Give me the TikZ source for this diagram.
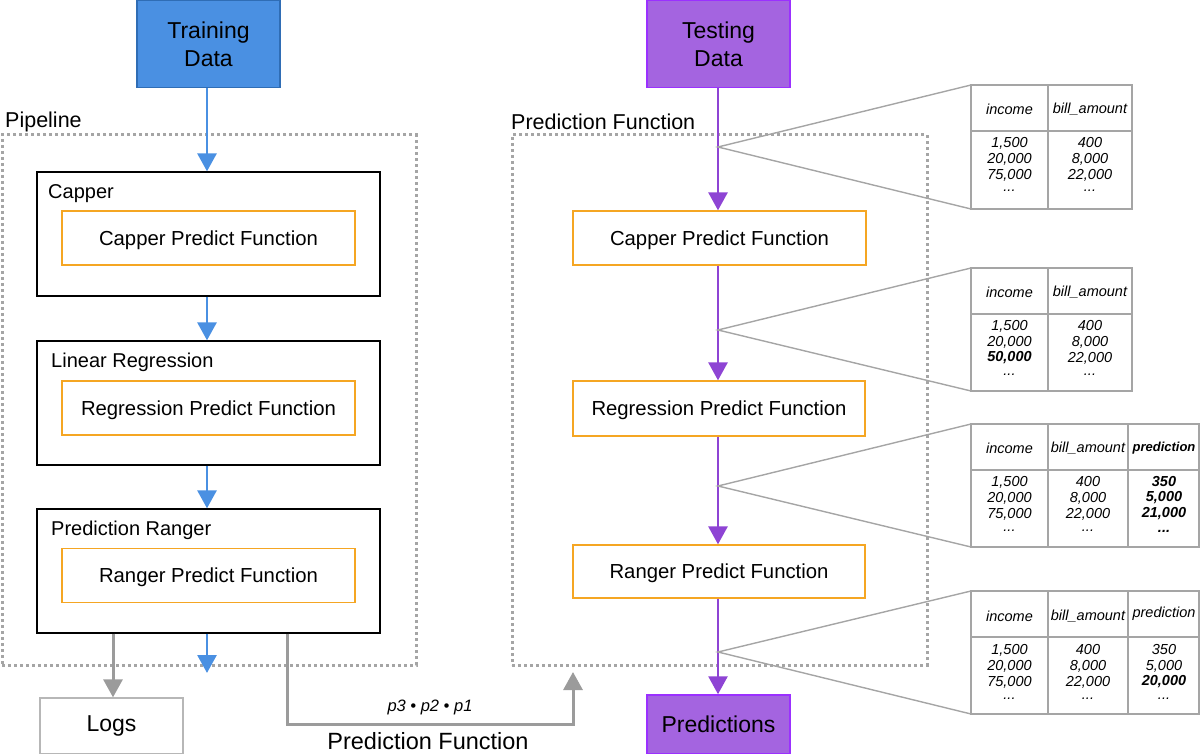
\documentclass[tikz,border=0pt]{standalone}
\usepackage{fontspec}
\setmainfont{Liberation Sans}
\usetikzlibrary{arrows.meta}
\definecolor{tblue}{HTML}{4A90E2}
\definecolor{tbluedk}{HTML}{2F6DB5}
\definecolor{tpurp}{HTML}{A464E0}
\definecolor{tpurpdk}{HTML}{9B30FF}
\definecolor{tparrow}{HTML}{8E44D4}
\definecolor{torange}{HTML}{F5A623}
\definecolor{tgrey}{HTML}{9B9B9B}
\definecolor{tdash}{HTML}{A5A5A5}
\tikzset{
  fs/.style={font=\fontsize{#1}{#1}\selectfont},
  databox/.style={minimum width=143pt,minimum height=87pt,inner sep=0pt,line width=1.5pt,align=center,font=\fontsize{23}{28}\selectfont},
  stagebox/.style={draw=black,line width=1.3pt,minimum width=343pt,minimum height=124pt,inner sep=0pt},
  fnbox/.style={draw=torange,line width=1.3pt,minimum width=293pt,minimum height=54pt,inner sep=0pt,fs=20.3,text depth=0pt,text height=14.5pt},
  dashbox/.style={draw=tdash,line width=3pt,dash pattern=on 3pt off 3pt,minimum width=414pt,minimum height=530pt,inner sep=0pt},
  lbl/.style={anchor=west,inner sep=0pt,fs=20,yshift=-2pt},
  tip/.style={-{Triangle[width=19pt,length=18pt]}},
  blueflow/.style={draw=tblue,line width=2.8pt,tip},
  purpflow/.style={draw=tparrow,line width=2.8pt,tip},
  greyflow/.style={draw=tgrey,line width=3pt,tip},
  zoomline/.style={draw=tdash,line width=1.4pt},
  tline/.style={draw=tdash,line width=1.6pt},
  cell/.style={inner sep=0pt,yshift=-1pt,font=\fontsize{14.5}{16}\selectfont\itshape},
  bcell/.style={inner sep=0pt,yshift=-1pt,font=\fontsize{14.5}{16}\selectfont\bfseries\itshape},
}
\begin{document}
\begin{tikzpicture}[x=1pt,y=-1pt]
\useasboundingbox (0,0) rectangle (1200,754);
% ---------- left: pipeline ----------
\node[dashbox] (pipe) at (209,400) {};
\node[lbl,fs=21.5] (pipelbl) at (5,120) {Pipeline};
\node[databox,fill=tblue,draw=tbluedk] (train) at (208.5,44) {Training\\Data};
\node[stagebox] (capper) at (208.5,234) {};
\node[lbl] (capperlbl) at (48,192) {Capper};
\node[fnbox] (capperfn) at (208.5,238) {Capper Predict Function};
\node[stagebox] (linreg) at (208.5,403) {};
\node[lbl] (linreglbl) at (51,360) {Linear Regression};
\node[fnbox] (linregfn) at (208.5,408) {Regression Predict Function};
\node[stagebox] (ranger) at (208.5,571) {};
\node[lbl] (rangerlbl) at (51,528) {Prediction Ranger};
\node[fnbox] (rangerfn) at (208.5,575.5) {Ranger Predict Function};
\node[draw=tdash!80,line width=1.3pt,minimum width=143pt,minimum height=56pt,inner sep=0pt,fs=23] (logs) at (111.5,726) {Logs};
\coordinate (pipeout) at (207,673);
\coordinate (pfin) at (573,672);

\draw[blueflow] (train.south -| 207,0) -- (capper.north -| 207,0);
\draw[blueflow] (capper.south -| 207,0) -- (linreg.north -| 207,0);
\draw[blueflow] (linreg.south -| 207,0) -- (ranger.north -| 207,0);
\draw[blueflow] (ranger.south -| 207,0) -- (pipeout);
\draw[greyflow] (ranger.south -| 113,0) -- (logs.north -| 113,0);
\draw[greyflow] (ranger.south -| 287,0) |- (430,724) -| (pfin);
\node[inner sep=0pt,font=\fontsize{16.5}{16.5}\selectfont\itshape] (comp) at (430,707) {p3 • p2 • p1};
\node[inner sep=0pt,fs=23.5] (pflbl2) at (428,741) {Prediction Function};

% ---------- right: prediction function ----------
\node[dashbox,minimum width=415pt] (pf) at (719.5,400) {};
\node[lbl,fs=21.5] (pflbl) at (511,120) {Prediction Function};
\node[databox,fill=tpurp,draw=tpurpdk] (test) at (718.5,44) {Testing\\Data};
\node[fnbox] (cpf) at (719.5,238) {Capper Predict Function};
\node[fnbox,minimum width=292pt,minimum height=55pt] (rpf) at (719,408.5) {Regression Predict Function};
\node[fnbox,minimum width=292pt,minimum height=53pt] (gpf) at (719,571.5) {Ranger Predict Function};
\node[databox,fill=tpurp,draw=tpurpdk,minimum height=59pt] (pred) at (718.5,724.5) {Predictions};

\draw[purpflow] (test.south -| 718,0) -- (cpf.north -| 718,0);
\draw[purpflow] (cpf.south -| 718,0) -- (rpf.north -| 718,0);
\draw[purpflow] (rpf.south -| 718,0) -- (gpf.north -| 718,0);
\draw[purpflow] (gpf.south -| 718,0) -- (pred.north -| 718,0);

\coordinate (z1) at (718,147);
\coordinate (z2) at (718,330);
\coordinate (z3) at (718,486);
\coordinate (z4) at (718,652);

% ---------- table 1 ----------
\coordinate (t1a) at (971,85); \coordinate (t1b) at (971,209);
\draw[zoomline] (t1a) -- (z1) -- (t1b);
\draw[tline] (971,85) rectangle (1132,209);
\draw[tline] (971,131) -- (1132,131) (1048,85) -- (1048,209);
\node[cell] (t1h1) at (1009.5,108) {income};
\node[cell] (t1h2) at (1090,108) {bill\_amount};
\node[cell] at (1009.5,142) {1,500};
\node[cell] at (1009.5,158) {20,000};
\node[cell] at (1009.5,174) {75,000};
\node[cell] at (1009.5,190) {...};
\node[cell] at (1090,142) {400};
\node[cell] at (1090,158) {8,000};
\node[cell] at (1090,174) {22,000};
\node[cell] at (1090,190) {...};

% ---------- table 2 ----------
\coordinate (t2a) at (971,268); \coordinate (t2b) at (971,391);
\draw[zoomline] (t2a) -- (z2) -- (t2b);
\draw[tline] (971,268) rectangle (1132,391);
\draw[tline] (971,314) -- (1132,314) (1048,268) -- (1048,391);
\node[cell] (t2h1) at (1009.5,291) {income};
\node[cell] (t2h2) at (1090,291) {bill\_amount};
\node[cell] at (1009.5,325) {1,500};
\node[cell] at (1009.5,341) {20,000};
\node[bcell] at (1009.5,357) {50,000};
\node[cell] at (1009.5,374) {...};
\node[cell] at (1090,325) {400};
\node[cell] at (1090,341) {8,000};
\node[cell] at (1090,357) {22,000};
\node[cell] at (1090,374) {...};

% ---------- table 3 ----------
\coordinate (t3a) at (971,424); \coordinate (t3b) at (971,547);
\draw[zoomline] (t3a) -- (z3) -- (t3b);
\draw[tline] (971,424) rectangle (1199,547);
\draw[tline] (971,470) -- (1199,470) (1048,424) -- (1048,547) (1128,424) -- (1128,547);
\node[cell] (t3h1) at (1009.5,447) {income};
\node[cell] (t3h2) at (1088,447) {bill\_amount};
\node[bcell,font=\fontsize{13}{16}\selectfont\bfseries\itshape] (t3h3) at (1164,447) {prediction};
\node[cell] at (1009.5,481) {1,500};
\node[cell] at (1009.5,497) {20,000};
\node[cell] at (1009.5,513) {75,000};
\node[cell] at (1009.5,530) {...};
\node[cell] at (1088,481) {400};
\node[cell] at (1088,497) {8,000};
\node[cell] at (1088,513) {22,000};
\node[cell] at (1088,530) {...};
\node[bcell] at (1164,481) {350};
\node[bcell] at (1164,497) {5,000};
\node[bcell] at (1164,513) {21,000};
\node[bcell] at (1164,530) {...};

% ---------- table 4 ----------
\coordinate (t4a) at (971,591); \coordinate (t4b) at (971,714);
\draw[zoomline] (t4a) -- (z4) -- (t4b);
\draw[tline] (971,591) rectangle (1199,714);
\draw[tline] (971,637) -- (1199,637) (1048,591) -- (1048,714) (1128,591) -- (1128,714);
\node[cell] (t4h1) at (1009.5,615) {income};
\node[cell] (t4h2) at (1088,615) {bill\_amount};
\node[cell] (t4h3) at (1164,613) {prediction};
\node[cell] at (1009.5,649) {1,500};
\node[cell] at (1009.5,665) {20,000};
\node[cell] at (1009.5,681) {75,000};
\node[cell] at (1009.5,698) {...};
\node[cell] at (1088,649) {400};
\node[cell] at (1088,665) {8,000};
\node[cell] at (1088,681) {22,000};
\node[cell] at (1088,698) {...};
\node[cell] at (1164,649) {350};
\node[cell] at (1164,665) {5,000};
\node[bcell] at (1164,681) {20,000};
\node[cell] at (1164,698) {...};
\end{tikzpicture}
\end{document}
